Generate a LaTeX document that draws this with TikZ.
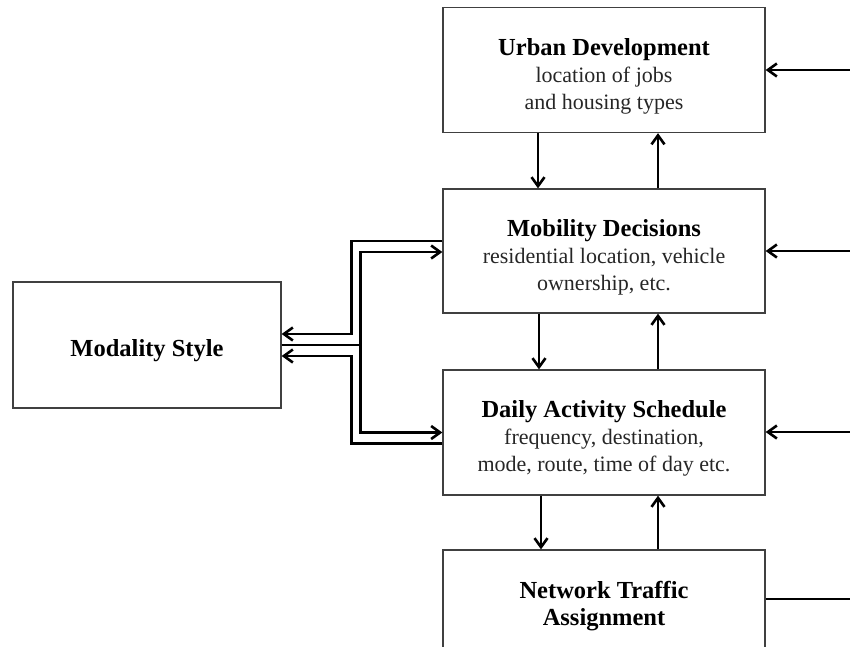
\documentclass[tikz,border=0pt]{standalone}
\usepackage{fontspec}
\setmainfont{Liberation Serif}
\usetikzlibrary{arrows.meta,calc}
\newcommand{\ttlfont}{\color{black}\bfseries\fontsize{24.5}{27}\selectfont}
\newcommand{\ttlline}[1]{{\ttlfont\rule{0pt}{29pt}#1}}
\begin{document}
\begin{tikzpicture}[x=1pt,y=-1pt,
  box/.style={draw=black!75, line width=1.3pt, rectangle, inner sep=0pt,
    minimum width=322pt, minimum height=125pt, align=center, text=black!85,
    font=\fontsize{22}{27}\selectfont},
  conn/.style={line width=2.8pt, black, -{Straight Barb[length=9pt,width=13pt,line width=2.6pt]}},
  plain/.style={line width=2.8pt, black}]
\useasboundingbox (0,0) rectangle (850,646);
\node[box] (urb) at (604,70) {\ttlline{Urban Development}\\location of jobs\\and housing types};
\node[box, minimum height=124pt] (mob) at (604,251) {\ttlline{Mobility Decisions}\\residential location, vehicle\\ownership, etc.};
\node[box] (day) at (604,432.5) {\ttlline{Daily Activity Schedule}\\frequency, destination,\\mode, route, time of day etc.};
\node[box, minimum height=100pt] (net) at (604,600) {\ttlline{Network Traffic}\\{\ttlfont Assignment}};
\node[box, minimum width=268pt, minimum height=126pt] (mod) at (147,345) {\ttlline{Modality Style}};

\coordinate (r1) at (850,70);
\coordinate (r2) at (850,251);
\coordinate (r3) at (850,432);
\coordinate (r4) at (850,599);

% vertical arrows
\draw[conn] ([xshift=-66pt]urb.south) -- ([xshift=-66pt]mob.north);
\draw[conn] ([xshift=54pt]mob.north) -- ([xshift=54pt]urb.south);
\draw[conn] ([xshift=-65pt]mob.south) -- ([xshift=-65pt]day.north);
\draw[conn] ([xshift=54pt]day.north) -- ([xshift=54pt]mob.south);
\draw[conn] ([xshift=-63pt]day.south) -- ([xshift=-63pt]net.north);
\draw[conn] ([xshift=54pt]net.north) -- ([xshift=54pt]day.south);

% right side
\draw[conn] (r1) -- (r1 -| urb.east);
\draw[conn] (r2) -- (r2 -| mob.east);
\draw[conn] (r3) -- (r3 -| day.east);
\draw[plain] (r4 -| net.east) -- (r4);

% left side
\draw[conn] ([yshift=10pt]mob.west) -- ++(-91,0) |- ([yshift=11pt]mod.east);
\draw[conn] (mod.east) -- ++(79,0) |- ([yshift=-1pt]mob.west);
\draw[conn] (mod.east) -- ++(79,0) |- (day.west);
\draw[conn] ([yshift=-11pt]day.west) -- ++(-91,0) |- ([yshift=-11pt]mod.east);
\end{tikzpicture}
\end{document}
